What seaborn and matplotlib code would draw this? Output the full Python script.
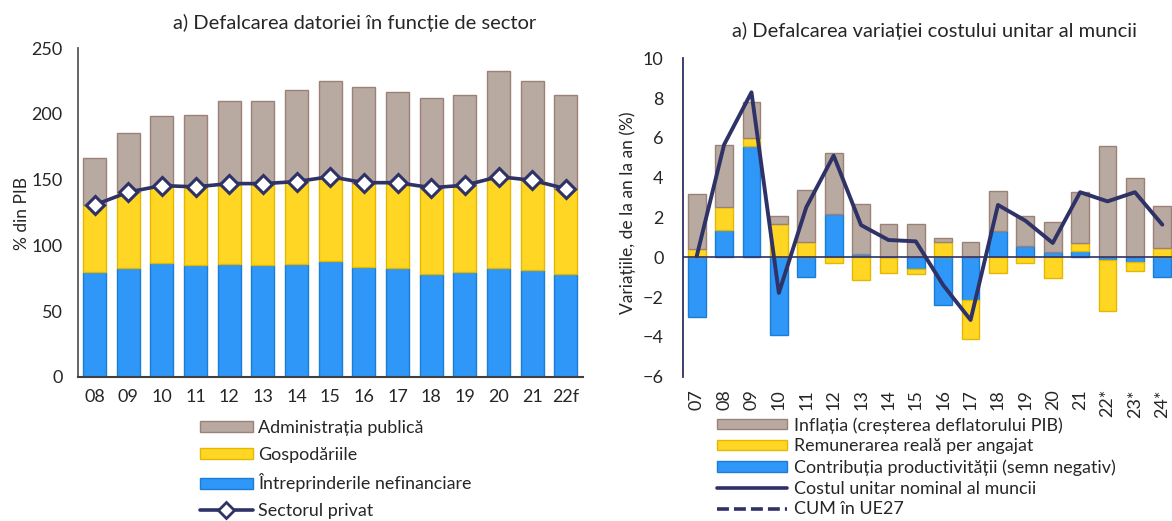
import numpy as np
import pandas as pd
import matplotlib
matplotlib.use("Agg")
import matplotlib.pyplot as plt
import seaborn as sns
from matplotlib.patches import Patch
from matplotlib.lines import Line2D

# ---- Debt by sector (% of GDP) ----
years_debt = ["08", "09", "10", "11", "12", "13", "14", "15", "16", "17", "18", "19", "20", "21", "22f"]
nonfin_corp = [79.5, 82.5, 86.8, 84.8, 85.8, 84.8, 85.8, 88.1, 83.7, 82.5, 78.4, 79.5, 82.5, 81.5, 78.4]
households = [51.2, 58.0, 58.7, 59.7, 61.2, 62.2, 62.7, 64.2, 64.0, 65.2, 65.5, 66.2, 69.8, 68.0, 64.7]
government = [36.0, 45.0, 53.0, 55.0, 63.0, 63.0, 70.0, 72.9, 73.1, 69.0, 68.5, 68.8, 80.5, 75.7, 71.4]
private_sector = [130.7, 140.5, 145.5, 144.5, 147.0, 147.0, 148.5, 152.3, 147.7, 147.7, 143.9, 145.7, 152.3, 149.5, 143.1]

# ---- Unit labour cost decomposition (y/y, %) ----
years_ulc = ["07", "08", "09", "10", "11", "12", "13", "14", "15", "16", "17", "18", "19", "20", "21", "22*", "23*", "24*"]
productivity = [-3.02, 1.39, 5.61, -3.89, -1.00, 2.19, 0.17, 0.00, -0.60, -2.40, -2.14, 1.34, 0.55, 0.27, 0.34, -0.12, -0.23, -0.97]
real_wage = [0.40, 1.12, 0.37, 1.69, 0.77, -0.30, -1.12, -0.77, -0.25, 0.75, -1.96, -0.77, -0.28, -1.06, 0.36, -2.56, -0.47, 0.47]
inflation = [2.78, 3.15, 1.81, 0.39, 2.63, 3.04, 2.53, 1.66, 1.66, 0.20, 0.79, 1.98, 1.51, 1.49, 2.57, 5.58, 3.97, 2.09]
nominal_ulc = [0.05, 5.66, 8.29, -1.79, 2.51, 5.11, 1.62, 0.87, 0.80, -1.40, -3.15, 2.63, 1.84, 0.72, 3.27, 2.81, 3.27, 1.64]

BROWN, BROWN_E = "#B8A9A1", "#9C8276"
YELLOW, YELLOW_E = "#FFD624", "#E3B800"
BLUE, BLUE_E = "#2F97F8", "#1C7DD6"
NAVY = "#2E3266"
TXT = "#262626"

sns.set_theme(style="white")
plt.rcParams["font.family"] = ["Lato", "DejaVu Sans"]
plt.rcParams["text.color"] = TXT
plt.rcParams["xtick.color"] = TXT
plt.rcParams["ytick.color"] = TXT

fig = plt.figure(figsize=(11.72, 5.21), dpi=100)

# ================= left: debt by sector =================
ax1 = fig.add_axes([0.0663, 0.2770, 0.4309, 0.6303])
debt = pd.DataFrame({"an": years_debt, "nf": nonfin_corp, "hh": households,
                     "gov": government, "priv": private_sector})
base_hh = np.array(nonfin_corp)
base_gov = base_hh + np.array(households)

bar_kw = dict(x="an", width=0.69, saturation=1, errorbar=None, linewidth=1.0, ax=ax1)
sns.barplot(data=debt, y="nf", color=BLUE, edgecolor=BLUE_E, **bar_kw)
sns.barplot(data=debt, y="hh", bottom=base_hh, color=YELLOW, edgecolor=YELLOW_E, **bar_kw)
sns.barplot(data=debt, y="gov", bottom=base_gov, color=BROWN, edgecolor=BROWN_E, **bar_kw)
sns.lineplot(data=debt, x="an", y="priv", sort=False, color=NAVY, linewidth=2.6,
             marker="D", markersize=9, markerfacecolor="white", markeredgecolor=NAVY,
             markeredgewidth=2.2, ax=ax1, zorder=5)

ax1.set_ylim(0, 250)
ax1.set_xlim(-0.5, len(years_debt) - 0.5)
ax1.set_yticks(np.arange(0, 251, 50))
ax1.set_xlabel("")
ax1.set_ylabel("")
ax1.tick_params(axis="both", length=0, labelsize=13)
ax1.tick_params(axis="x", pad=9)
ax1.tick_params(axis="y", pad=11)
for s in ["top", "right"]:
    ax1.spines[s].set_visible(False)
ax1.spines["left"].set_color("#595959")
ax1.spines["left"].set_linewidth(1.3)
ax1.spines["bottom"].set_color("#404040")
ax1.spines["bottom"].set_linewidth(1.5)

fig.text(355 / 1172, 1 - 23 / 521, "a) Defalcarea datoriei în funcție de sector",
         ha="center", va="center", fontsize=14.5)
fig.text(22 / 1172, 1 - 213 / 521, "% din PIB", rotation=90, ha="center", va="center",
         fontsize=12.5)

h_left = [
    Patch(facecolor=BROWN, edgecolor=BROWN_E, linewidth=1, label="Administrația publică"),
    Patch(facecolor=YELLOW, edgecolor=YELLOW_E, linewidth=1, label="Gospodăriile"),
    Patch(facecolor=BLUE, edgecolor=BLUE_E, linewidth=1, label="Întreprinderile nefinanciare"),
    Line2D([], [], color=NAVY, linewidth=2.6, marker="D", markersize=8,
           markerfacecolor="white", markeredgecolor=NAVY, markeredgewidth=2,
           label="Sectorul privat"),
]
fig.legend(handles=h_left, loc="upper left", bbox_to_anchor=(200 / 1172, 1 - 420 / 521),
           frameon=False, fontsize=12.9, handlelength=2.95, handleheight=0.55,
           handletextpad=0.28, labelspacing=0.6, borderpad=0, borderaxespad=0)

# ================= right: unit labour cost =================
ax2 = fig.add_axes([683 / 1172, 0.2770, (1176 - 683) / 1172, 0.6111])
ulc = pd.DataFrame({"an": years_ulc, "prod": productivity, "wage": real_wage,
                    "infl": inflation, "cum": nominal_ulc})

# stack positives and negatives separately, productivity first, then wages, then inflation
pos_base = np.zeros(len(years_ulc))
neg_base = np.zeros(len(years_ulc))
bottoms = {}
for key in ["prod", "wage", "infl"]:
    v = ulc[key].to_numpy()
    b = np.where(v >= 0, pos_base, neg_base)
    bottoms[key] = b
    pos_base = pos_base + np.where(v >= 0, v, 0)
    neg_base = neg_base + np.where(v < 0, v, 0)

bar_kw2 = dict(x="an", width=0.65, saturation=1, errorbar=None, linewidth=1.0, ax=ax2)
sns.barplot(data=ulc, y="prod", bottom=bottoms["prod"], color=BLUE, edgecolor=BLUE_E, **bar_kw2)
sns.barplot(data=ulc, y="wage", bottom=bottoms["wage"], color=YELLOW, edgecolor=YELLOW_E, **bar_kw2)
sns.barplot(data=ulc, y="infl", bottom=bottoms["infl"], color=BROWN, edgecolor=BROWN_E, **bar_kw2)
ax2.axhline(0, color=NAVY, linewidth=1.2, zorder=4)
sns.lineplot(data=ulc, x="an", y="cum", sort=False, color=NAVY, linewidth=2.8, ax=ax2, zorder=5)

ax2.set_ylim(-6, 10)
ax2.set_xlim(-0.5, len(years_ulc) - 0.5)
ax2.set_yticks(np.arange(-6, 11, 2))
ax2.set_xlabel("")
ax2.set_ylabel("")
ax2.tick_params(axis="both", length=0, labelsize=13)
ax2.tick_params(axis="x", pad=9, labelrotation=90)
ax2.tick_params(axis="y", pad=14)
for s in ["top", "right", "bottom"]:
    ax2.spines[s].set_visible(False)
ax2.spines["left"].set_color(NAVY)
ax2.spines["left"].set_linewidth(1.3)

fig.text(934 / 1172, 1 - 31 / 521, "a) Defalcarea variației costului unitar al muncii",
         ha="center", va="center", fontsize=14.5)
fig.text(628 / 1172, 1 - 213 / 521, "Variațiile, de la an la an (%)", rotation=90,
         ha="center", va="center", fontsize=12.5)

h_right = [
    Patch(facecolor=BROWN, edgecolor=BROWN_E, linewidth=1, label="Inflația (creșterea deflatorului PIB)"),
    Patch(facecolor=YELLOW, edgecolor=YELLOW_E, linewidth=1, label="Remunerarea reală per angajat"),
    Patch(facecolor=BLUE, edgecolor=BLUE_E, linewidth=1, label="Contribuția productivității (semn negativ)"),
    Line2D([], [], color=NAVY, linewidth=2.6, label="Costul unitar nominal al muncii"),
    Line2D([], [], color=NAVY, linewidth=2.6, linestyle=(0, (3.3, 1.4)), label="CUM în UE27"),
]
fig.legend(handles=h_right, loc="upper left", bbox_to_anchor=(717 / 1172, 1 - 417 / 521),
           frameon=False, fontsize=12.9, handlelength=3.9, handleheight=0.5,
           handletextpad=0.4, labelspacing=0.27, borderpad=0, borderaxespad=0)

fig.savefig("out.png", dpi=100)
